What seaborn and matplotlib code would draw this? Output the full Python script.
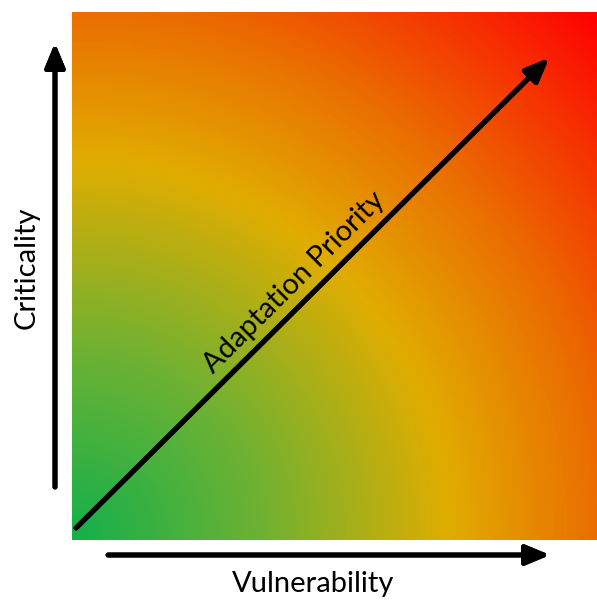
import numpy as np
import matplotlib
matplotlib.use("Agg")
import matplotlib.pyplot as plt
import matplotlib.patheffects as pe
from matplotlib.colors import LinearSegmentedColormap
import seaborn as sns

# Gradient colour stops (radial distance from bottom-left, in units of side length)
stop_pos = [0.0, 0.36, 0.72, 1.0, 1.4142]
stop_col = ["#12b04b", "#6eb132", "#e0ac00", "#ea6e00", "#ff0000"]

x_label = "Vulnerability"
y_label = "Criticality"
diag_label = "Adaptation Priority"

sns.set_theme(style="white")
plt.rcParams['font.family'] = ['Lato', 'DejaVu Sans']

W, H = 597, 600
fig = plt.figure(figsize=(W / 100, H / 100), dpi=100)

# gradient panel
left, right, top, bottom = 72, 597, 12, 540
gax = fig.add_axes([left / W, 1 - bottom / H, (right - left) / W, (bottom - top) / H])
n = 260
xs = np.linspace(0, 1, n)
ys = np.linspace(1, 0, n)
X, Y = np.meshgrid(xs, ys)
R = np.sqrt(X ** 2 + Y ** 2)
cmap = LinearSegmentedColormap.from_list(
    "prio", [(p / stop_pos[-1], c) for p, c in zip(stop_pos, stop_col)])
sns.heatmap(R, ax=gax, cmap=cmap, vmin=0, vmax=stop_pos[-1], cbar=False,
            xticklabels=False, yticklabels=False, rasterized=True)
gax.set_axis_off()

# overlay for arrows and text in pixel coordinates
oax = fig.add_axes([0, 0, 1, 1])
oax.set_xlim(0, W)
oax.set_ylim(H, 0)
oax.set_axis_off()

shadow = [pe.withSimplePatchShadow(offset=(1.5, -1.5), shadow_rgbFace="#888888", alpha=0.5), pe.Normal()]

def arrow(x0, y0, x1, y1):
    a = oax.annotate("", xy=(x1, y1), xytext=(x0, y0),
                     arrowprops=dict(arrowstyle="-|>,head_length=1.2,head_width=0.5",
                                     lw=3.6, color="black", shrinkA=0, shrinkB=0,
                                     mutation_scale=12))
    a.arrow_patch.set_path_effects(shadow)

arrow(55, 487, 55, 43)
arrow(108, 555, 550, 555)
arrow(76, 528, 549, 58)

oax.text(313, 584, x_label, fontsize=21, ha="center", va="center", color="black")
oax.text(27, 268, y_label, fontsize=21, ha="center", va="center", rotation=90, color="black")
oax.text(294, 282, diag_label, fontsize=21, ha="center", va="center", rotation=45,
         rotation_mode="anchor", color="black")

fig.savefig("out.png", dpi=100)
